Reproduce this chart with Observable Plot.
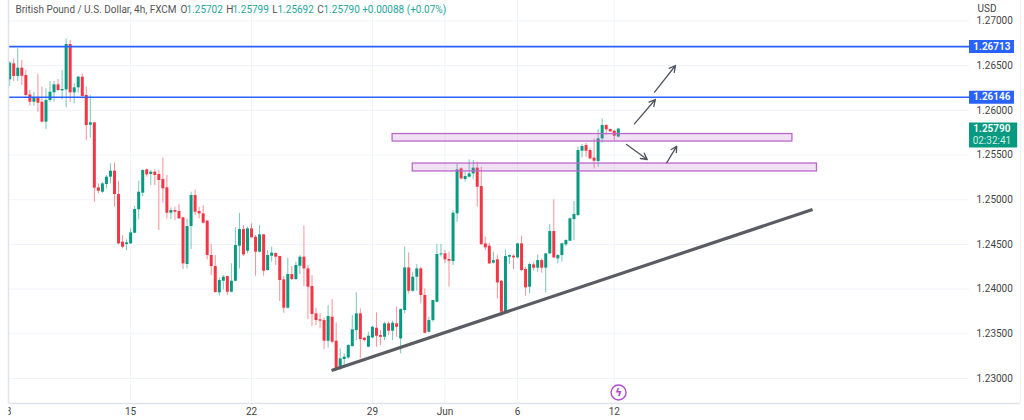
<!DOCTYPE html>
<html><head><meta charset="utf-8">
<script src="https://cdn.jsdelivr.net/npm/d3@7"></script>
<script src="https://cdn.jsdelivr.net/npm/@observablehq/plot@0.6"></script>
<style>html,body{margin:0;padding:0;background:#fff}svg{display:block}</style>
</head><body><div id="chart"></div>
<script>
const opens=[1.26341,1.26520,1.26379,1.26472,1.26390,1.26173,1.26091,1.26136,1.26091,1.25868,1.26110,1.26196,1.26285,1.26218,1.26229,1.26737,1.26196,1.26252,1.26371,1.26166,1.25834,1.25860,1.25133,1.25084,1.25170,1.25252,1.25319,1.25058,1.24525,1.24499,1.24506,1.24625,1.24887,1.25073,1.25334,1.25282,1.25308,1.25282,1.25226,1.25133,1.24849,1.24879,1.24868,1.24797,1.24275,1.24700,1.25047,1.24868,1.24842,1.24760,1.24376,1.24252,1.23958,1.24088,1.24141,1.23965,1.24088,1.24480,1.24666,1.24424,1.24674,1.24581,1.24413,1.24607,1.24208,1.24368,1.24398,1.24364,1.24103,1.23786,1.24163,1.24107,1.24256,1.24357,1.24226,1.24029,1.23723,1.23656,1.23648,1.23417,1.23685,1.23417,1.23110,1.23212,1.23230,1.23357,1.23536,1.23723,1.23450,1.23350,1.23454,1.23562,1.23480,1.23461,1.23611,1.23529,1.23611,1.23443,1.23760,1.24237,1.23976,1.24133,1.24226,1.23928,1.23517,1.23648,1.23853,1.24383,1.24394,1.24331,1.24308,1.24842,1.25345,1.25226,1.25252,1.25289,1.25353,1.25147,1.24506,1.24480,1.24290,1.24327,1.24088,1.23749,1.24357,1.24368,1.24349,1.24506,1.24219,1.24021,1.24271,1.24234,1.24319,1.24234,1.24394,1.24644,1.24338,1.24375,1.24495,1.24536,1.24778,1.24823,1.25543,1.25606,1.25550,1.25465,1.25427,1.25681,1.25830,1.25785,1.25767,1.25702];
const highs=[1.26546,1.26576,1.26688,1.26558,1.26446,1.26222,1.26203,1.26401,1.26259,1.26241,1.26323,1.26323,1.26345,1.26446,1.26800,1.26781,1.26296,1.26379,1.26408,1.26259,1.26166,1.25860,1.25177,1.25196,1.25271,1.25401,1.25412,1.25204,1.24599,1.24551,1.24674,1.24924,1.25207,1.25334,1.25345,1.25327,1.25334,1.25327,1.25468,1.25271,1.24909,1.24916,1.24946,1.24804,1.24786,1.25084,1.25110,1.24916,1.24935,1.24767,1.24499,1.24376,1.24126,1.24152,1.24141,1.24282,1.24685,1.24849,1.24711,1.24693,1.24730,1.24599,1.24711,1.24610,1.24431,1.24469,1.24405,1.24368,1.24141,1.24346,1.24252,1.24301,1.24376,1.24704,1.24264,1.24152,1.23786,1.23723,1.23678,1.23816,1.23883,1.23622,1.23331,1.23275,1.23379,1.23704,1.23958,1.23779,1.23461,1.23517,1.23585,1.23734,1.23536,1.23629,1.23629,1.23641,1.23797,1.23779,1.24469,1.24405,1.24189,1.24275,1.24245,1.24002,1.23685,1.23872,1.24498,1.24498,1.24431,1.24413,1.24879,1.25401,1.25356,1.25308,1.25446,1.25438,1.25420,1.25364,1.24580,1.24510,1.24413,1.24375,1.24096,1.24439,1.24383,1.24383,1.24513,1.24592,1.24245,1.24290,1.24301,1.24383,1.24338,1.24394,1.24722,1.24998,1.24387,1.24513,1.24551,1.24797,1.24980,1.25588,1.25617,1.25632,1.25569,1.25681,1.25782,1.25905,1.25841,1.25793,1.25774,1.25799];
const lows=[1.26267,1.26323,1.26323,1.26278,1.26147,1.26047,1.26047,1.25979,1.25856,1.25785,1.26091,1.26091,1.26211,1.26117,1.26028,1.26091,1.26073,1.26192,1.26150,1.25662,1.25689,1.24972,1.25066,1.25073,1.25122,1.25177,1.24916,1.24495,1.24450,1.24431,1.24500,1.24620,1.24778,1.25036,1.25252,1.25159,1.25159,1.24655,1.24961,1.24786,1.24778,1.24767,1.24780,1.24219,1.24226,1.24443,1.24823,1.24786,1.24730,1.24327,1.24152,1.23954,1.23920,1.23991,1.23928,1.23958,1.24080,1.24226,1.24364,1.24394,1.24570,1.24144,1.24405,1.24144,1.24200,1.24301,1.24264,1.23861,1.23730,1.23778,1.24096,1.24096,1.24163,1.24029,1.23656,1.23581,1.23592,1.23555,1.23324,1.23339,1.23387,1.23081,1.23090,1.23126,1.23215,1.23350,1.23424,1.23219,1.23406,1.23345,1.23443,1.23350,1.23368,1.23424,1.23480,1.23424,1.23461,1.23275,1.23723,1.23946,1.23965,1.23976,1.23834,1.23499,1.23510,1.23629,1.23845,1.24357,1.24282,1.24021,1.24263,1.24748,1.25220,1.25196,1.25244,1.25226,1.24916,1.24490,1.24431,1.24275,1.24282,1.23890,1.23693,1.23730,1.24275,1.24215,1.24338,1.24200,1.23920,1.23946,1.24200,1.24189,1.24178,1.23958,1.24386,1.24340,1.24282,1.24301,1.24476,1.24530,1.24543,1.24812,1.25468,1.25476,1.25446,1.25345,1.25364,1.25632,1.25718,1.25755,1.25655,1.25692];
const closes=[1.26528,1.26379,1.26472,1.26382,1.26166,1.26091,1.26136,1.26080,1.25868,1.26110,1.26203,1.26285,1.26222,1.26233,1.26737,1.26196,1.26252,1.26371,1.26155,1.25830,1.25860,1.25129,1.25095,1.25177,1.25252,1.25319,1.25058,1.24506,1.24469,1.24517,1.24629,1.24890,1.25084,1.25327,1.25278,1.25308,1.25271,1.25215,1.25122,1.24849,1.24879,1.24860,1.24786,1.24282,1.24700,1.25047,1.24860,1.24842,1.24737,1.24376,1.24252,1.23962,1.24096,1.24133,1.23965,1.24088,1.24487,1.24666,1.24383,1.24674,1.24573,1.24413,1.24607,1.24200,1.24376,1.24402,1.24357,1.24096,1.23786,1.24163,1.24107,1.24264,1.24357,1.24226,1.24021,1.23715,1.23648,1.23641,1.23417,1.23693,1.23406,1.23089,1.23219,1.23238,1.23368,1.23544,1.23723,1.23435,1.23424,1.23473,1.23573,1.23473,1.23461,1.23611,1.23529,1.23618,1.23573,1.23771,1.24237,1.23976,1.24133,1.24226,1.23928,1.23506,1.23648,1.23872,1.24387,1.24394,1.24327,1.24312,1.24849,1.25334,1.25233,1.25259,1.25289,1.25353,1.25140,1.24498,1.24461,1.24282,1.24319,1.24069,1.23741,1.24364,1.24375,1.24349,1.24506,1.24207,1.24014,1.24275,1.24234,1.24319,1.24234,1.24394,1.24644,1.24349,1.24375,1.24506,1.24543,1.24786,1.24834,1.25550,1.25595,1.25543,1.25457,1.25431,1.25681,1.25830,1.25782,1.25759,1.25711,1.25790];

const priceTicks=[1.23,1.235,1.24,1.245,1.25,1.255,1.26,1.265,1.27];
const dateTicks=[-0.3,30,60,90,108,126,150];
const dateLabels=["8","15","22","29","Jun","6","12"];
const levels=[1.26713,1.26146];
const zones=[{x1:95,x2:194.2,y1:1.25735,y2:1.25651},{x1:100,x2:200.3,y1:1.25405,y2:1.25316}];
const trend=[{x1:79.85,y1:1.23089,x2:199.2,y2:1.24891}];
const arrows=[
 {x1:155,y1:1.25849,x2:160.2,y2:1.26121},
 {x1:160,y1:1.26203,x2:165.2,y2:1.26502},
 {x1:153.05,y1:1.25618,x2:158.2,y2:1.2545},
 {x1:163,y1:1.25413,x2:165.5,y2:1.25599}];
const lastPrice=1.2579, countdown="02:32:41";

const xMin=-0.3,xPlot=238.14,xLabel=249.3,xEdge=250.8,yMin=1.2272,yMax=1.27229;
const candles=d3.range(opens.length).map(i=>({i,o:opens[i],h:highs[i],l:lows[i],c:closes[i]}));
const up="#089981",down="#f23645",dir=d=>d.c>=d.o?up:down;
const font="Roboto,'Open Sans',sans-serif",fs=10;
const hdr=(t,dx,fill)=>Plot.text([t],{frameAnchor:"top-left",textAnchor:"start",lineAnchor:"middle",dx,dy:9.5,fill,fontSize:fs,fontFamily:font});
const hdrG="#26a69a",hdrT="#555";

const chart=Plot.plot({
 width:1024,height:420,marginLeft:8,marginRight:55,marginTop:0,marginBottom:17,
 style:{fontFamily:font,background:"#fff",overflow:"visible"},
 x:{type:"linear",domain:[xMin,xPlot]},
 y:{type:"linear",domain:[yMin,yMax]},
 marks:[
  Plot.ruleY(priceTicks,{stroke:"#f0f3fa",x1:xMin,x2:xPlot}),
  Plot.ruleX(dateTicks.slice(1),{stroke:"#f0f3fa"}),
  Plot.ruleX([xEdge],{stroke:"#eef0f4",strokeWidth:1}),
  Plot.ruleY([yMin],{x1:xMin,x2:xEdge,stroke:"#e0e3eb",strokeWidth:1.5}),
  Plot.ruleX(candles,{x:"i",y1:"l",y2:"h",stroke:dir,strokeWidth:1,strokeOpacity:0.55}),
  Plot.ruleX(candles,{x:"i",y1:"o",y2:"c",stroke:dir,strokeWidth:3}),
  Plot.rect(zones,{x1:"x1",x2:"x2",y1:"y1",y2:"y2",fill:"#ba68c8",fillOpacity:0.2,stroke:"#ba68c8",strokeWidth:1.3}),
  Plot.link(trend,{x1:"x1",y1:"y1",x2:"x2",y2:"y2",stroke:"#5a5c64",strokeWidth:3.2}),
  Plot.arrow(arrows,{x1:"x1",y1:"y1",x2:"x2",y2:"y2",bend:0,stroke:"#50535e",strokeWidth:1.3,headLength:8,headAngle:55}),
  Plot.ruleY(levels,{x1:xMin,x2:xPlot,stroke:"#2962ff",strokeWidth:1.6}),
  Plot.ruleY(levels,{x1:xPlot,x2:xLabel,stroke:"#2962ff",strokeWidth:13}),
  Plot.text(levels,{x:xLabel-5.6,y:d=>d,text:d=>d.toFixed(5),fill:"#fff",fontSize:fs,fontWeight:600}),
  Plot.ruleY([lastPrice],{x1:xPlot,x2:xEdge-0.7,stroke:up,strokeWidth:25,dy:6}),
  Plot.text([lastPrice],{x:xLabel-5.6,y:d=>d,text:d=>d.toFixed(5),fill:"#fff",fontSize:fs,fontWeight:600}),
  Plot.text([lastPrice],{x:xLabel-5.6,y:d=>d,text:()=>countdown,fill:"#cfeee6",fontSize:fs,dy:11.5}),
  Plot.axisY({anchor:"right",ticks:priceTicks,tickSize:0,tickPadding:7,tickFormat:d=>d.toFixed(5),label:null,fill:"#444",fontSize:fs}),
  Plot.axisX({ticks:dateTicks,tickSize:0,tickPadding:4,tickFormat:d=>dateLabels[dateTicks.indexOf(d)],label:null,fill:"#444",fontSize:fs}),
  Plot.ruleX([xMin-1],{y1:1.2254,y2:yMax,stroke:"#fff",strokeWidth:8}),
  Plot.ruleX([xMin],{y1:yMin,y2:yMax,stroke:"#e0e3eb",strokeWidth:1.5}),
  Plot.dot([{x:151.07,y:1.22843}],{x:"x",y:"y",r:7.5,fill:"none",stroke:"#b04cc9",strokeWidth:1.4}),
  Plot.text([{x:151.07,y:1.22843}],{x:"x",y:"y",text:()=>"ϟ",fill:"#b04cc9",fontSize:11,fontWeight:700,fontFamily:"DejaVu Sans"}),
  hdr("British Pound / U.S. Dollar, 4h, FXCM",7,hdrT),
  hdr("O",172,hdrT),hdr("1.25702",178,hdrG),
  hdr("H",217.7,hdrT),hdr("1.25799",224,hdrG),
  hdr("L",263.7,hdrT),hdr("1.25692",269,hdrG),
  hdr("C",308.7,hdrT),hdr("1.25790",315,hdrG),
  hdr("+0.00088 (+0.07%)",353.7,hdrG),
  Plot.text(["USD"],{frameAnchor:"top-right",textAnchor:"start",lineAnchor:"middle",dx:8,dy:8.5,fill:"#444",fontSize:fs})
 ]});
document.getElementById("chart").append(chart);
</script></body></html>
